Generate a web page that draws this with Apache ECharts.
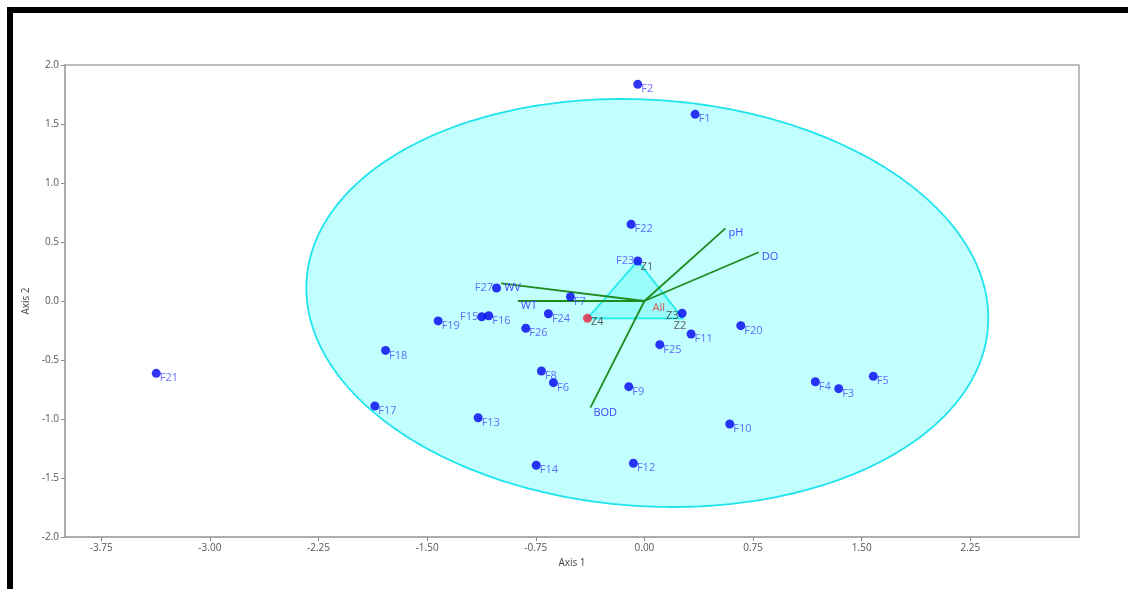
<!DOCTYPE html>
<html>
<head>
<meta charset="utf-8">
<script src="https://cdn.jsdelivr.net/npm/echarts@6/dist/echarts.min.js"></script>
<style>
html,body{margin:0;padding:0;background:#fff;}
#chart{width:1128px;height:589px;position:absolute;left:0;top:0;}
#frame{position:absolute;left:7px;top:7px;right:0;bottom:0;border-top:6px solid #000;border-left:6px solid #000;pointer-events:none;}
</style>
</head>
<body>
<div id="chart"></div>
<div id="frame"></div>
<script>
// ---- data ----
const siteNames = ['F1','F2','F3','F4','F5','F6','F7','F8','F9','F10','F11','F12','F13','F14','F15','F16','F17','F18','F19','F20','F21','F22','F23','F24','F25','F26','F27'];
const siteX = [0.350,-0.046,1.341,1.180,1.580,-0.628,-0.511,-0.711,-0.108,0.589,0.322,-0.076,-1.148,-0.747,-1.123,-1.075,-1.861,-1.787,-1.424,0.665,-3.370,-0.092,-0.046,-0.663,0.106,-0.819,-1.021];
const siteY = [1.582,1.836,-0.743,-0.684,-0.638,-0.692,0.036,-0.593,-0.726,-1.042,-0.280,-1.375,-0.989,-1.392,-0.133,-0.125,-0.890,-0.419,-0.169,-0.209,-0.613,0.650,0.339,-0.108,-0.370,-0.231,0.110];

const zoneNames = ['Z1','Z2','Z3','Z4'];
const zoneX = [-0.046,0.265,0.260,-0.393];
const zoneY = [0.339,-0.147,-0.104,-0.147];
const hullOrder = ['Z1','Z2','Z4'];

const varNames = ['pH','DO','WV','WT','BOD'];
const varX = [0.559,0.789,-0.989,-0.874,-0.373];
const varY = [0.616,0.413,0.150,0.000,-0.904];

const allName = 'All';
const allPoint = [0, 0];

// 95% ellipse: centre and covariance-form parameters
const ellipseCenter = [0.02, -0.017];
const ellipseCov = [5.541, -0.30, 2.989]; // sxx, sxy, syy

const xTicks = [-3.75,-3.00,-2.25,-1.50,-0.75,0.00,0.75,1.50,2.25];
const yTicks = [-2.0,-1.5,-1.0,-0.5,0.0,0.5,1.0,1.5,2.0];
const leftLabelSites = ['F27','F15','F23'];

// ---- chart ----
const chart = echarts.init(document.getElementById('chart'));
const FONT = '"Open Sans", "Noto Sans", sans-serif';
const LABEL_BLUE = '#4646ff';

const siteData = siteNames.map((n,i)=>{
  const d = {name:n, value:[siteX[i], siteY[i]]};
  if (leftLabelSites.includes(n)) {
    d.label = {position:'left', distance:-1, offset:[0,0]};
  }
  return d;
});

const zoneIdx = n => zoneNames.indexOf(n);

const option = {
  animation:false,
  backgroundColor:'#fff',
  grid:{left:65,right:49,top:65,bottom:52,show:true,borderColor:'#a8a8a8',borderWidth:1.5,backgroundColor:'transparent'},
  xAxis:{
    type:'value', min:-4, max:3,
    name:'Axis 1', nameLocation:'middle', nameGap:20,
    nameTextStyle:{fontFamily:FONT,fontSize:10,color:'#444'},
    axisLine:{show:true,onZero:false,lineStyle:{color:'#a8a8a8',width:1.5}},
    axisTick:{show:true,length:4,lineStyle:{color:'#888'},customValues:xTicks},
    axisLabel:{fontFamily:FONT,fontSize:10,color:'#555',margin:6,customValues:xTicks,formatter:v=>v.toFixed(2)},
    splitLine:{show:false}
  },
  yAxis:{
    type:'value', min:-2, max:2, interval:0.5,
    name:'Axis 2', nameLocation:'middle', nameGap:30, nameRotate:90,
    nameTextStyle:{fontFamily:FONT,fontSize:10,color:'#444'},
    axisLine:{show:true,onZero:false,lineStyle:{color:'#a8a8a8',width:1.5}},
    axisTick:{show:true,length:4,lineStyle:{color:'#888'}},
    axisLabel:{fontFamily:FONT,fontSize:10,color:'#555',margin:6,formatter:v=>v.toFixed(1)},
    splitLine:{show:false}
  },
  series:[
    { // ellipse
      type:'custom', z:1, silent:true, clip:true,
      data:[[ellipseCenter[0], ellipseCenter[1]]],
      renderItem:(params, api)=>{
        const sxx=ellipseCov[0], sxy=ellipseCov[1], syy=ellipseCov[2];
        const l11=Math.sqrt(sxx), l21=sxy/l11, l22=Math.sqrt(syy-l21*l21);
        const pts=[];
        for(let k=0;k<360;k++){
          const t=k/360*2*Math.PI;
          pts.push(api.coord([ellipseCenter[0]+l11*Math.cos(t), ellipseCenter[1]+l21*Math.cos(t)+l22*Math.sin(t)]));
        }
        return {type:'polygon', shape:{points:pts}, style:{fill:'#c2ffff', stroke:'#1ee4ee', lineWidth:1.8}};
      }
    },
    { // convex hull of zones
      type:'custom', z:2, silent:true,
      data:[[0,0]],
      renderItem:(params, api)=>{
        const pts = hullOrder.map(n=>api.coord([zoneX[zoneIdx(n)], zoneY[zoneIdx(n)]]));
        return {type:'polygon', shape:{points:pts}, style:{fill:'#9bfcfc', stroke:'#22ecec', lineWidth:1.8}};
      }
    },
    { // biplot vectors
      type:'custom', z:3, silent:true,
      data:varNames.map((n,i)=>[varX[i], varY[i], n]),
      renderItem:(params, api)=>{
        const o = api.coord(allPoint);
        const e = api.coord([api.value(0), api.value(1)]);
        return {type:'group', children:[
          {type:'line', shape:{x1:o[0],y1:o[1],x2:e[0],y2:e[1]}, style:{stroke:'#1f8c1f', lineWidth:1.8}},
          {type:'text', x:e[0]+3, y:e[1]+5, style:{text:varNames[params.dataIndex], fill:LABEL_BLUE, font:'11px '+FONT, textAlign:'left', textVerticalAlign:'middle'}}
        ]};
      }
    },
    { // sites
      type:'scatter', z:4, symbol:'circle', symbolSize:9,
      itemStyle:{color:'#0000f0'},
      label:{show:true, position:'right', distance:-1, offset:[0,5], formatter:p=>p.name, color:LABEL_BLUE, fontSize:11, fontFamily:FONT},
      data:siteData
    },
    { // zones
      type:'scatter', z:5, symbol:'circle', symbolSize:9,
      data:[
        {name:'Z1', value:[zoneX[0],zoneY[0]], symbolSize:0, label:{position:'right', distance:3, offset:[0,6]}},
        {name:'Z2', value:[zoneX[1],zoneY[1]], symbolSize:0, label:{position:'right', distance:-9, offset:[0,8]}},
        {name:'Z3', value:[zoneX[2],zoneY[2]], itemStyle:{color:'#0000f0'}, label:{position:'left', distance:-1, offset:[0,3]}},
        {name:'Z4', value:[zoneX[3],zoneY[3]], itemStyle:{color:'#e8203a'}, label:{position:'right', distance:-1, offset:[0,4]}}
      ],
      label:{show:true, formatter:p=>p.name, color:'#333', fontSize:11, fontFamily:FONT}
    },
    { // overall centroid label
      type:'scatter', z:5, symbolSize:0,
      data:[{name:allName, value:allPoint}],
      label:{show:true, position:'right', distance:8, offset:[0,7], formatter:p=>p.name, color:'#e83030', fontSize:11, fontFamily:FONT}
    }
  ]
};
chart.setOption(option);
</script>
</body>
</html>
